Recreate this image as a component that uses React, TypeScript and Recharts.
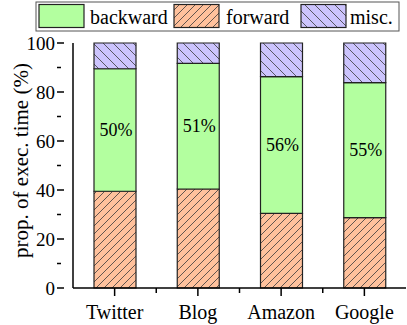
import { BarChart, Bar, XAxis, YAxis, LabelList } from 'recharts';

const categories = ['Twitter', 'Blog', 'Amazon', 'Google'];
const forward = [39.5, 40.4, 30.5, 28.7];
const backward = [50.0, 51.3, 55.8, 55.1];
const misc = [10.5, 8.3, 13.7, 16.2];
const backwardLabels = ['50%', '51%', '56%', '55%'];
const yTicks = [0, 10, 20, 30, 40, 50, 60, 70, 80, 90, 100];

const data = categories.map((name, i) => ({
  name,
  forward: forward[i],
  backward: backward[i],
  misc: misc[i],
  pct: backwardLabels[i],
}));

const FONT = '"Liberation Serif", "Times New Roman", serif';
const GREEN = '#b3ff9f';
const ORANGE = '#ffc19c';
const PURPLE = '#ccc4fd';

function Patterns() {
  return (
    <svg width={0} height={0} style={{ position: 'absolute' }}>
      <defs>
        <pattern id="hatchFwd" patternUnits="userSpaceOnUse" width={8} height={8}>
          <rect width={8} height={8} fill={ORANGE} />
          <path d="M0,8 L8,0 M-2,2 L2,-2 M6,10 L10,6" stroke="#3a3a3a" strokeWidth={0.8} />
        </pattern>
        <pattern id="hatchMisc" patternUnits="userSpaceOnUse" width={10} height={10}>
          <rect width={10} height={10} fill={PURPLE} />
          <path d="M0,0 L10,10 M-2,8 L2,12 M8,-2 L12,2" stroke="#3a3a3a" strokeWidth={0.8} />
        </pattern>
      </defs>
    </svg>
  );
}

const YTick = (props: any) => {
  const { x, y, payload } = props;
  const major = payload.value % 20 === 0;
  return (
    <g>
      <line x1={x + 1} x2={x + (major ? 8 : 5)} y1={y} y2={y} stroke="#000" strokeWidth={1.5} transform={`translate(${-9},0)`} />
      {major && (
        <text x={x - 10} y={y} dy={7} textAnchor="end" fontSize={19} fontFamily={FONT} fill="#000">
          {payload.value}
        </text>
      )}
    </g>
  );
};

const XTick = (props: any) => {
  const { x, y, payload } = props;
  const half = payload.offset || 41.6;
  return (
    <g>
      <line x1={x} x2={x} y1={y - 8} y2={y} stroke="#000" strokeWidth={1.5} />
      {payload.index < categories.length - 1 && (
        <line x1={x + half} x2={x + half} y1={y - 8} y2={y - 3} stroke="#000" strokeWidth={1.5} />
      )}
      <text x={x} y={y} dy={23} textAnchor="middle" fontSize={20} fontFamily={FONT} fill="#000">
        {payload.value}
      </text>
    </g>
  );
};

const YLabel = (props: any) => {
  const { viewBox } = props;
  const cx = 21;
  const cy = viewBox.y + viewBox.height / 2 - 5;
  return (
    <text
      x={cx}
      y={cy}
      transform={`rotate(-90, ${cx}, ${cy})`}
      textAnchor="middle"
      dominantBaseline="central"
      fontSize={21}
      fontFamily={FONT}
      fill="#000"
    >
      prop. of exec. time (%)
    </text>
  );
};

const PctLabel = (props: any) => {
  const { x, y, width, height, value } = props;
  return (
    <text
      x={x + width / 2 + 1}
      y={y + height / 2}
      textAnchor="middle"
      dominantBaseline="central"
      fontSize={18}
      fontFamily={FONT}
      fill="#000"
    >
      {value}
    </text>
  );
};

function LegendBox() {
  const items = [
    { label: 'backward', fill: GREEN, sw: 39, tx: 90 },
    { label: 'forward', fill: 'url(#hatchFwd)', sw: 174, tx: 226 },
    { label: 'misc.', fill: 'url(#hatchMisc)', sw: 301, tx: 350 },
  ];
  return (
    <svg width={407} height={34} style={{ position: 'absolute', left: 0, top: 0 }}>
      <rect x={36} y={2} width={363} height={29} fill="#fff" stroke="#555" strokeWidth={1} />
      {items.map((it) => (
        <g key={it.label}>
          <rect x={it.sw} y={4.5} width={45} height={23} fill={it.fill} stroke="#222" strokeWidth={1.2} />
          <text x={it.tx} y={24} fontSize={20} fontFamily={FONT} fill="#000">
            {it.label}
          </text>
        </g>
      ))}
    </svg>
  );
}

export default function App() {
  return (
    <div style={{ position: 'absolute', left: 0, top: 0, width: 407, height: 325, background: '#fff' }}>
      <Patterns />
      <BarChart
        width={407}
        height={325}
        data={data}
        margin={{ top: 43, right: 1, left: 0, bottom: 0 }}
        barSize={42}
      >
        <XAxis
          dataKey="name"
          height={37}
          tick={<XTick />}
          tickLine={false}
          axisLine={{ stroke: '#000', strokeWidth: 1.5 }}
          interval={0}
        />
        <YAxis
          width={73}
          domain={[0, 100]}
          ticks={yTicks}
          interval={0}
          tick={<YTick />}
          tickLine={false}
          axisLine={{ stroke: '#000', strokeWidth: 1.5 }}
          label={<YLabel />}
        />
        <Bar dataKey="forward" stackId="a" fill="url(#hatchFwd)" stroke="#222" strokeWidth={1.2} isAnimationActive={false} />
        <Bar dataKey="backward" stackId="a" fill={GREEN} stroke="#222" strokeWidth={1.2} isAnimationActive={false}>
          <LabelList dataKey="pct" content={<PctLabel />} />
        </Bar>
        <Bar dataKey="misc" stackId="a" fill="url(#hatchMisc)" stroke="#222" strokeWidth={1.2} isAnimationActive={false} />
      </BarChart>
      <LegendBox />
    </div>
  );
}
